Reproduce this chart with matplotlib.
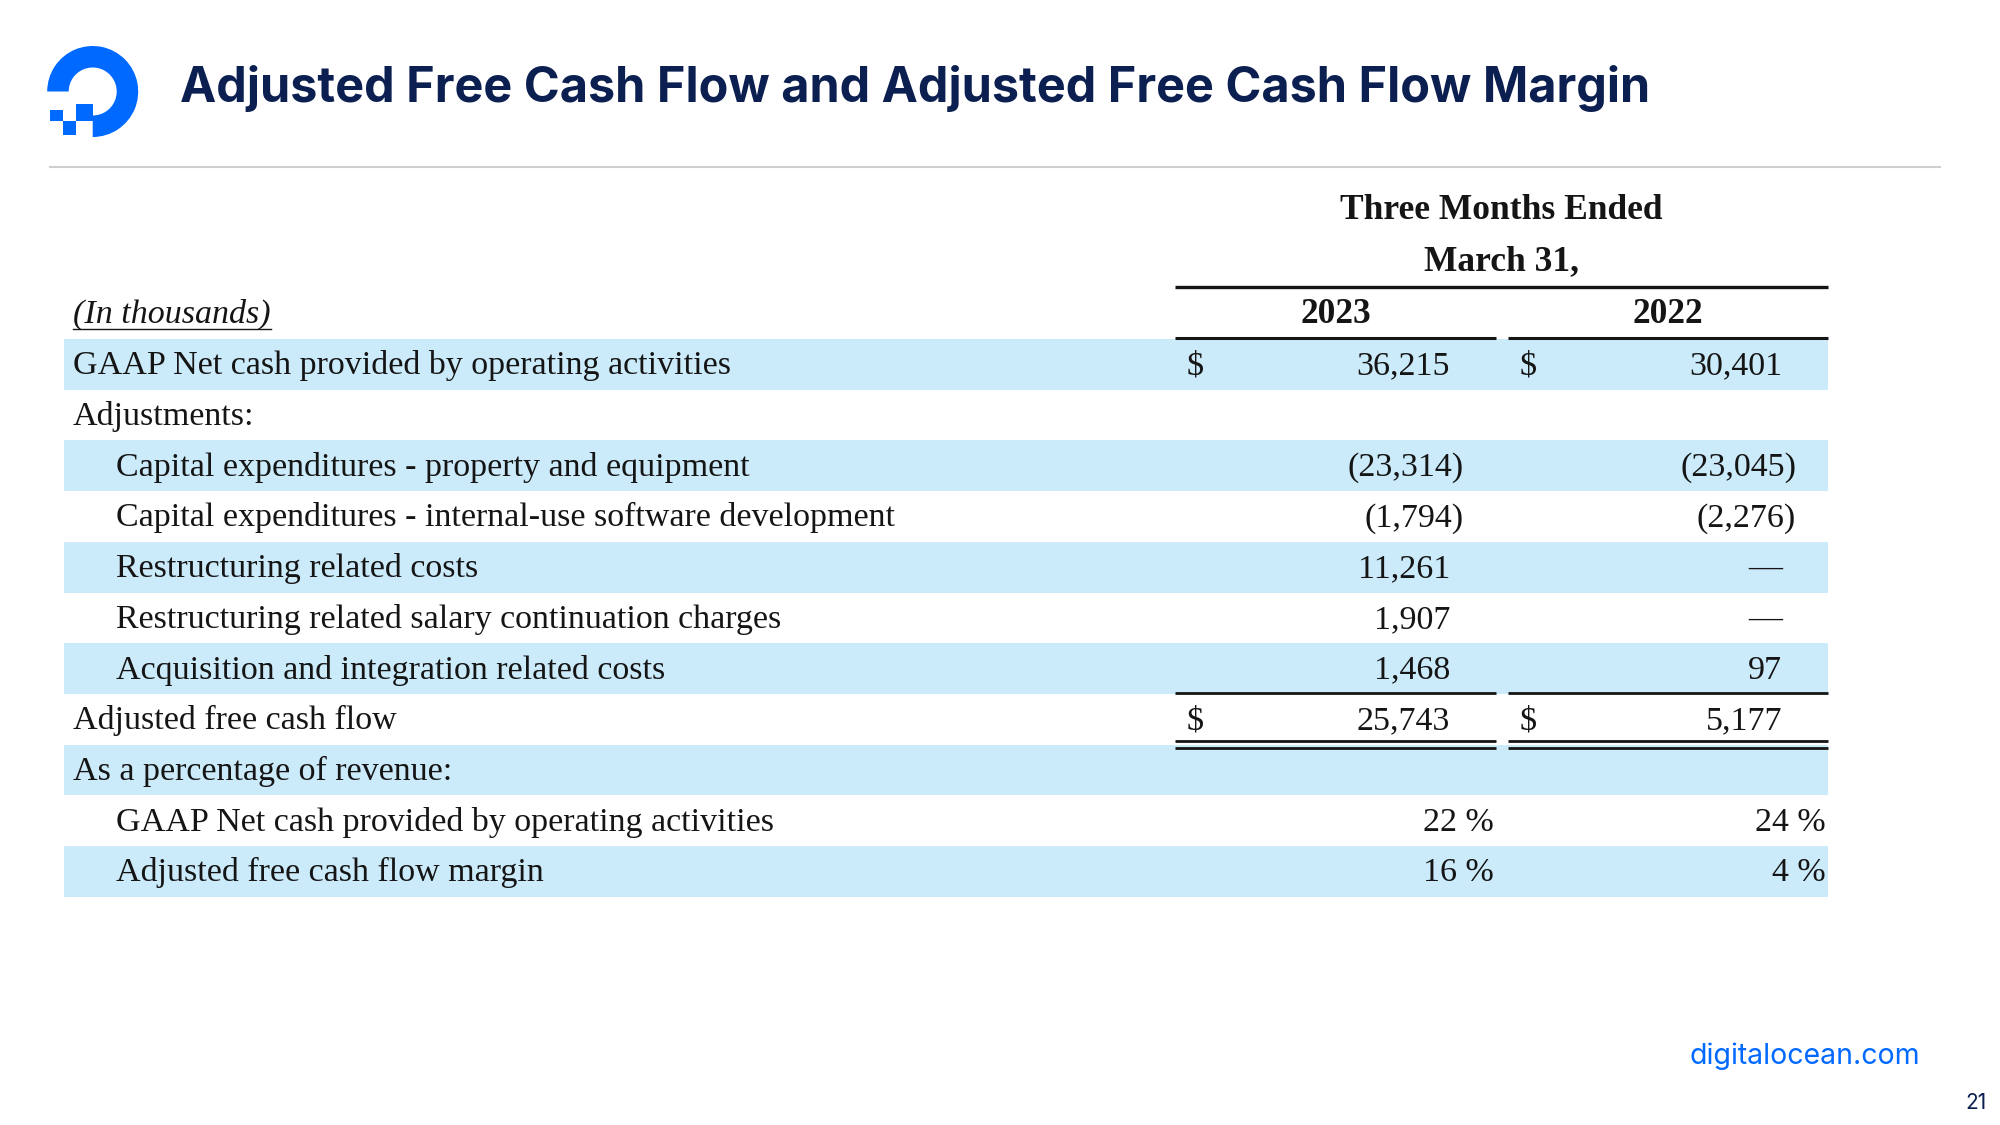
import matplotlib
matplotlib.use("Agg")
import matplotlib.pyplot as plt
from matplotlib.patches import Wedge, Rectangle

# ---- data ----
title = "Adjusted Free Cash Flow and Adjusted Free Cash Flow Margin"
period_header = ["Three Months Ended", "March 31,"]
years = ["2023", "2022"]
row_labels = [
    "GAAP Net cash provided by operating activities",
    "Adjustments:",
    "Capital expenditures - property and equipment",
    "Capital expenditures - internal-use software development",
    "Restructuring related costs",
    "Restructuring related salary continuation charges",
    "Acquisition and integration related costs",
    "Adjusted free cash flow",
    "As a percentage of revenue:",
    "GAAP Net cash provided by operating activities",
    "Adjusted free cash flow margin",
]
row_indent = [0, 0, 1, 1, 1, 1, 1, 0, 0, 1, 1]
values_2023 = ["36,215", "", "(23,314)", "(1,794)", "11,261", "1,907", "1,468", "25,743", "", "22 %", "16 %"]
values_2022 = ["30,401", "", "(23,045)", "(2,276)", "—", "—", "97", "5,177", "", "24 %", "4 %"]
dollar_rows = [0, 7]

BLUE = "#0069FF"
NAVY = "#0B1F50"
BAND = "#CCEBFA"
INK = "#151515"
SERIF = "Liberation Serif"

fig = plt.figure(figsize=(20, 11.25), dpi=100)
ax = fig.add_axes([0, 0, 1, 1])
ax.set_xlim(0, 2000)
ax.set_ylim(1125, 0)
ax.axis("off")

# ---- logo ----
cx, cy = 92.7, 91.5
ax.add_patch(Wedge((cx, cy), 45.5, 180, 450, width=21.5, color=BLUE, lw=0))
ax.add_patch(Rectangle((76, 104), 17, 17, color=BLUE, lw=0))
ax.add_patch(Rectangle((62.5, 121), 13.5, 14, color=BLUE, lw=0))
ax.add_patch(Rectangle((50, 110), 12.5, 11, color=BLUE, lw=0))

# ---- title + rule ----
ax.text(180, 88, title, fontsize=35, fontweight="bold", family="Inter",
        color=NAVY, ha="left", va="center")
ax.plot([50, 1940], [167, 167], color="#CFCFCF", lw=1.5)

# ---- table ----
top = 339
rh = 50.7
col1_l, col1_r = 1175, 1496
col2_l, col2_r = 1508, 1828
fs = 24.5
hfs = 25.5

ax.text((col1_l + col2_r) / 2, 219, period_header[0], fontsize=hfs, family=SERIF,
        fontweight="bold", color=INK, ha="center", va="baseline")
ax.text((col1_l + col2_r) / 2, 270, period_header[1], fontsize=hfs, family=SERIF,
        fontweight="bold", color=INK, ha="center", va="baseline")
ax.plot([col1_l, col2_r], [287, 287], color=INK, lw=2.4, solid_capstyle="butt")

ax.text(73, 323, "(In thousands)", fontsize=fs, family=SERIF, style="italic",
        color=INK, ha="left", va="baseline")
ax.plot([73, 271], [329, 329], color=INK, lw=1.0)
for yr, (l, r) in zip(years, [(col1_l, col1_r), (col2_l, col2_r)]):
    ax.text((l + r) / 2, 323, yr, fontsize=hfs, family=SERIF, fontweight="bold",
            color=INK, ha="center", va="baseline")
    ax.plot([l, r], [338, 338], color=INK, lw=2.2, solid_capstyle="butt")

for i, label in enumerate(row_labels):
    y0 = top + i * rh
    yb = y0 + rh / 2 + 10
    if i % 2 == 0:
        ax.add_patch(Rectangle((64, y0), 1828 - 64, rh, color=BAND, lw=0, zorder=0))
    ax.text(73 if row_indent[i] == 0 else 116, yb, label, fontsize=fs, family=SERIF,
            color=INK, ha="left", va="baseline")
    for v, (l, r) in zip([values_2023[i], values_2022[i]],
                         [(col1_l, col1_r), (col2_l, col2_r)]):
        if not v:
            continue
        if v.endswith("%"):
            x = r - 2
        elif v.startswith("("):
            x = r - 32
        else:
            x = r - 46
        ax.text(x, yb, v, fontsize=fs, family=SERIF, color=INK, ha="right", va="baseline")
        if i in dollar_rows:
            ax.text(l + 12, yb, "$", fontsize=fs, family=SERIF, color=INK,
                    ha="left", va="baseline")

# subtotal rules
for l, r in [(col1_l, col1_r), (col2_l, col2_r)]:
    ax.plot([l, r], [693, 693], color=INK, lw=2.0, solid_capstyle="butt")
    ax.plot([l, r], [741, 741], color=INK, lw=2.0, solid_capstyle="butt")
    ax.plot([l, r], [748, 748], color=INK, lw=2.0, solid_capstyle="butt")

# ---- footer ----
ax.text(1920, 1056, "digitalocean.com", fontsize=20.5, family="Inter", color=BLUE,
        ha="right", va="center")
ax.text(1987, 1103, "21", fontsize=15, family="Inter", color=NAVY,
        ha="right", va="center")

fig.savefig("out.png", dpi=100)
